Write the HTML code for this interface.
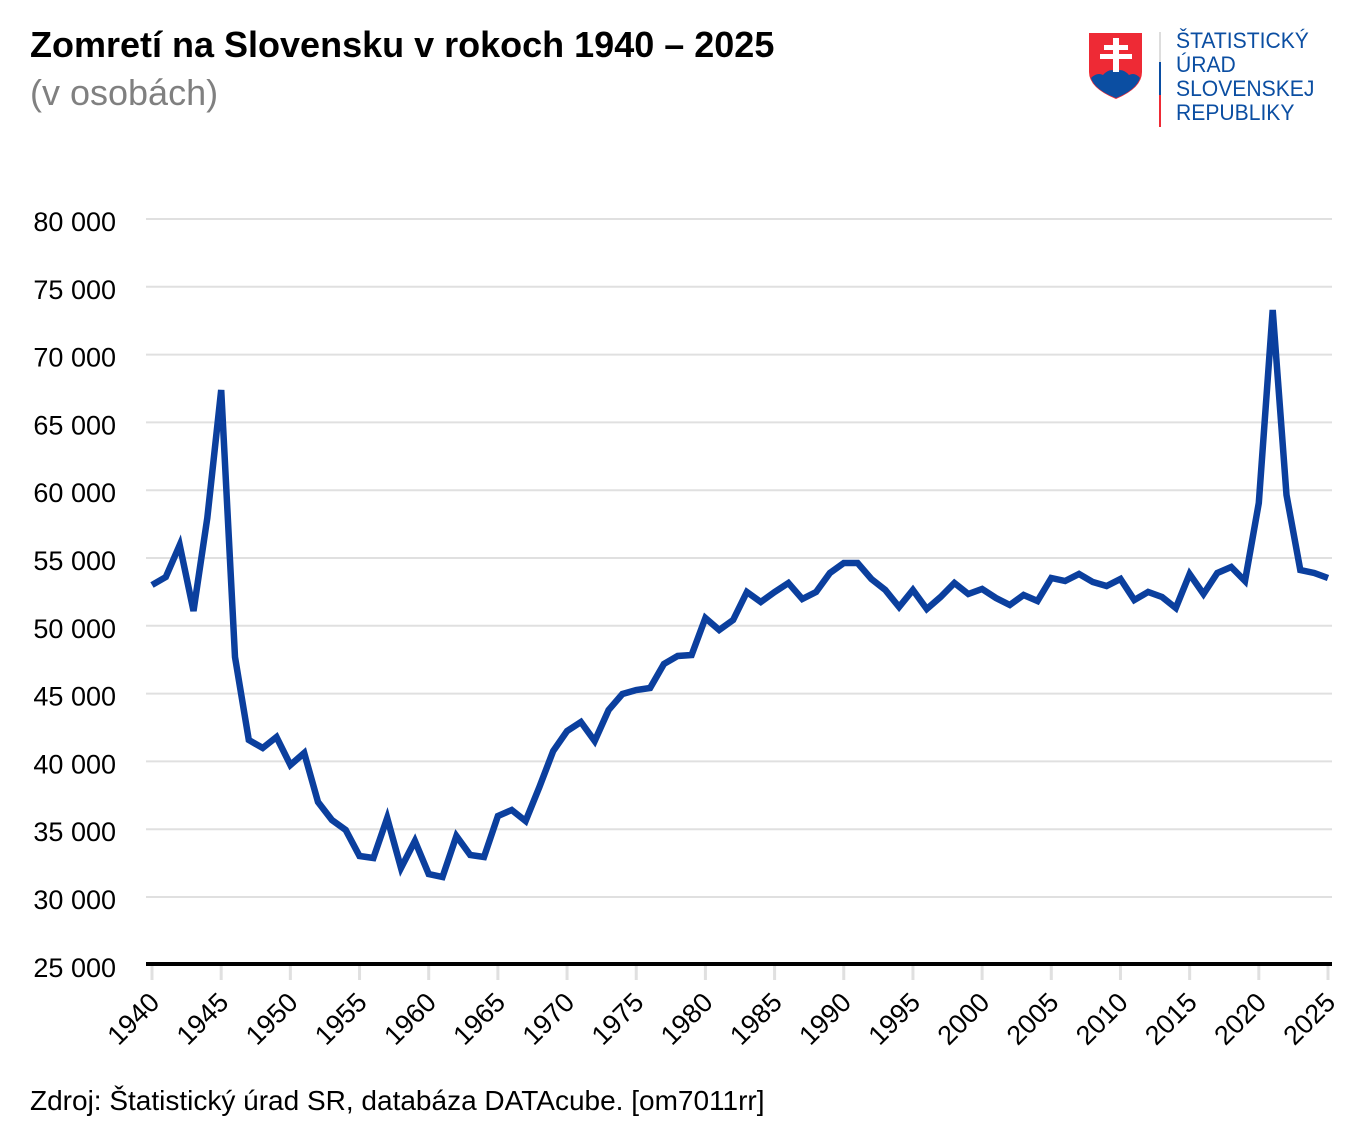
<!DOCTYPE html>
<html><head><meta charset="utf-8"><style>
body{margin:0;background:#fff;width:1362px;height:1140px;overflow:hidden;font-family:"Liberation Sans",Arial,sans-serif}
</style></head><body>
<svg id="s" width="1362" height="1140" xmlns="http://www.w3.org/2000/svg" font-family="Liberation Sans, Arial, sans-serif">
<text x="30" y="57" font-size="36" font-weight="bold" fill="#000">Zomretí na Slovensku v rokoch 1940 – 2025</text>
<text x="30" y="105" font-size="36" fill="#808080">(v osobách)</text>
<!-- logo -->
<path d="M1089 33 H1142 V72 Q1142 88 1116 99 Q1089 88 1089 72 Z" fill="#ee2a35"/>
<path d="M1091 78 Q1097 72 1103 75 Q1109 68 1116 71 Q1123 68 1129 75 Q1135 72 1140 78 Q1136 90 1116 98 Q1095 90 1091 78 Z" fill="#0b4ea2"/>
<rect x="1113" y="38" width="6" height="34" fill="#fff"/>
<rect x="1104" y="45" width="24" height="5" fill="#fff"/>
<rect x="1100" y="54" width="32" height="5" fill="#fff"/>
<rect x="1159" y="32" width="2" height="30" fill="#ddd"/>
<rect x="1159" y="62" width="2" height="33" fill="#0b4ea2"/>
<rect x="1159" y="95" width="2" height="32" fill="#ee2a35"/>
<g font-size="22" fill="#0b4ea2" transform="translate(1176 0) scale(0.96 1)">
<text x="0" y="48">ŠTATISTICKÝ</text>
<text x="0" y="72">ÚRAD</text>
<text x="0" y="96">SLOVENSKEJ</text>
<text x="0" y="120">REPUBLIKY</text>
</g>
<g id="grid" stroke="#e0e0e0" stroke-width="2"></g>
<g id="ylab" font-size="27" fill="#000" text-anchor="end"></g>
<line x1="146" y1="964" x2="1332" y2="964" stroke="#000" stroke-width="4"/>
<g id="ticks" stroke="#e0e0e0" stroke-width="3"></g>
<g id="xlab" font-size="27" fill="#000" text-anchor="end"></g>
<polyline id="ln" fill="none" stroke="#0b3f9e" stroke-width="6.5" stroke-linejoin="miter"/>
<text x="30" y="1110" font-size="28" fill="#000">Zdroj: Štatistický úrad SR, databáza DATAcube. [om7011rr]</text>
</svg>
<script>
var ns="http://www.w3.org/2000/svg";
function el(t,a,p,txt){var e=document.createElementNS(ns,t);for(var k in a)e.setAttribute(k,a[k]);if(txt)e.textContent=txt;document.getElementById(p).appendChild(e);}
var labs=["80 000","75 000","70 000","65 000","60 000","55 000","50 000","45 000","40 000","35 000","30 000","25 000"];
for(var i=0;i<12;i++){var y=219+i*67.8;if(i<11)el("line",{x1:146,x2:1332,y1:y,y2:y},"grid");el("text",{x:116,y:y+12},"ylab",labs[i]);}
var x0=152,dx=1176/85;
for(var yr=1940;yr<=2025;yr+=5){var x=x0+(yr-1940)*dx;el("line",{x1:x,x2:x,y1:966,y2:980},"ticks");el("text",{x:x+9,y:1004,transform:"rotate(-45 "+(x+9)+" 1004)"},"xlab",String(yr));}
var ys=[585,577,545,611,518,390,657,740,748,737,765,753,802,820,830,856,858,818,868,841,874,877,836,855,857,816,810,821,787,751,731,722,741,710,694,690,688,664,656,655,618,630,620,592,602,592,583,599,592,573,563,563,579,590,607,590,609,597,583,594,589,598,605,595,601,578,581,574,582,586,579,600,592,597,608,574,594,573,567,581,503,310,495,570,573,578];
document.getElementById("ln").setAttribute("points",ys.map(function(y,i){return (x0+i*dx).toFixed(1)+","+y}).join(" "));
</script>
</body></html>
